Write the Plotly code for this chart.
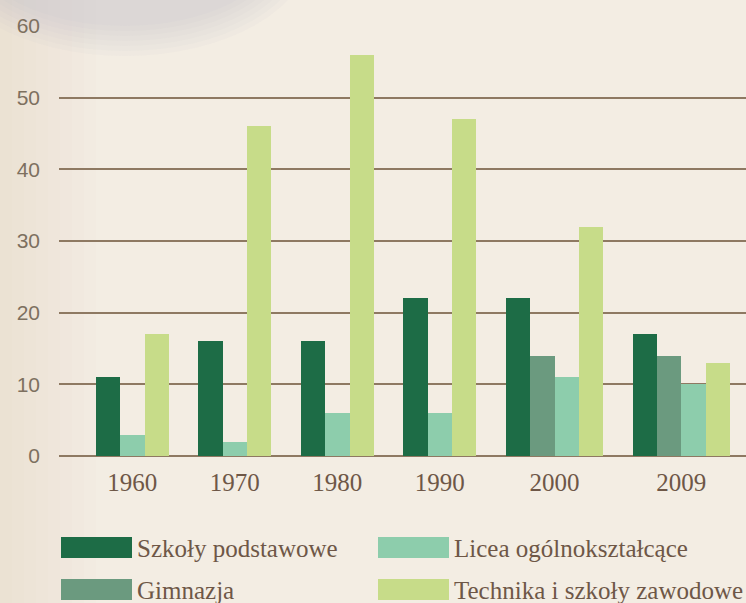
import plotly.graph_objects as go

# Number of schools per category (thousands), by year
YEARS = ["1960", "1970", "1980", "1990", "2000", "2009"]
SERIES = ["Szkoły podstawowe", "Gimnazja", "Licea ogólnokształcące", "Technika i szkoły zawodowe"]
szkoly_podstawowe = [11, 16, 16, 22, 22, 17]
gimnazja = [None, None, None, None, 14, 14]
licea = [3, 2, 6, 6, 11, 10]
technika = [17, 46, 56, 47, 32, 13]
VALUES = [szkoly_podstawowe, gimnazja, licea, technika]
COLORS = ["#1d6c46", "#6b9a7f", "#8dcdac", "#c7dc89"]
Y_TICKS = [0, 10, 20, 30, 40, 50, 60]

# Layout constants (pixels)
W, H = 746, 603
ML, MR, MT, MB = 59, 0, 26, 147
PW, PH = W - ML - MR, H - MT - MB
GROUP_GAP = 1.22          # gap between year groups, in bar widths
LEFT_PAD = 1.52           # space before first group, in bar widths
PX_PER_BAR = 24.29        # horizontal scale: pixels per bar width
TEXT = "#6e5747"
GRID = "#8e7962"


def px_x(px):
    return (px - ML) / PW


def px_y(py):
    return (H - MB - py) / PH


# Bars of one year sit side by side; years without a value leave no slot.
xs = [[] for _ in SERIES]
ys = [[] for _ in SERIES]
group_centers = []
pos = 0.0
for i, _ in enumerate(YEARS):
    start = pos
    for s, vals in enumerate(VALUES):
        if vals[i] is not None:
            xs[s].append(pos + 0.5)
            ys[s].append(vals[i])
            pos += 1
    group_centers.append((start + pos) / 2)
    pos += GROUP_GAP
x_range = [-LEFT_PAD, -LEFT_PAD + PW / PX_PER_BAR]

fig = go.Figure()
for s, name in enumerate(SERIES):
    fig.add_trace(go.Bar(
        x=xs[s], y=ys[s], name=name, width=1.0,
        marker=dict(color=COLORS[s], line=dict(width=0)),
        showlegend=False, hoverinfo="y+name",
    ))

shapes = []
# warm tint fading in from the left edge
for k in range(1, 9):
    shapes.append(dict(type="rect", xref="paper", yref="paper", layer="below",
                       x0=px_x(0), x1=px_x(12 * k), y0=px_y(H), y1=px_y(0),
                       fillcolor="#e8d3bf", opacity=0.045, line_width=0))
# soft grey shadow along the top edge
for k in range(7):
    rx, ry = 150 + 6 * k, 78 + 5 * k
    cx, cy = 125, -52
    shapes.append(dict(type="circle", xref="paper", yref="paper", layer="below",
                       x0=px_x(cx - rx), x1=px_x(cx + rx),
                       y0=px_y(cy + ry), y1=px_y(cy - ry),
                       fillcolor="#b9b8bb", opacity=0.05, line_width=0))

# legend: two columns of large swatches with serif labels
legend_order = [0, 2, 1, 3]
col_x = [61, 378]
row_y = [537, 579]
annotations = []
for k, s in enumerate(legend_order):
    r, c = divmod(k, 2)
    x0, y0 = col_x[c], row_y[r]
    shapes.append(dict(type="rect", xref="paper", yref="paper",
                       x0=px_x(x0), x1=px_x(x0 + 71), y0=px_y(y0 + 21), y1=px_y(y0),
                       fillcolor=COLORS[s], line_width=0))
    annotations.append(dict(xref="paper", yref="paper", x=px_x(x0 + 74), y=px_y(y0 + 11),
                            text=SERIES[s], showarrow=False, xanchor="left", yanchor="middle",
                            font=dict(family="Liberation Serif", size=25, color=TEXT)))

fig.update_layout(
    width=W, height=H,
    margin=dict(l=ML, r=MR, t=MT, b=MB, pad=0),
    paper_bgcolor="#f3ede3", plot_bgcolor="rgba(0,0,0,0)",
    barmode="overlay", bargap=0,
    shapes=shapes, annotations=annotations,
    xaxis=dict(range=x_range, tickvals=group_centers, ticktext=YEARS,
               showgrid=False, zeroline=False, showline=False, ticks="",
               ticklabelstandoff=9,
               tickfont=dict(family="Liberation Serif", size=25, color=TEXT)),
    yaxis=dict(range=[0, 60], tickvals=Y_TICKS, showgrid=True,
               gridcolor=GRID, gridwidth=2.2, zeroline=True, zerolinecolor=GRID,
               zerolinewidth=2.2, showline=False, ticks="", ticklabelstandoff=18,
               tickfont=dict(family="Liberation Sans", size=21, color="#7d705f")),
)

fig.write_html("out.html")
